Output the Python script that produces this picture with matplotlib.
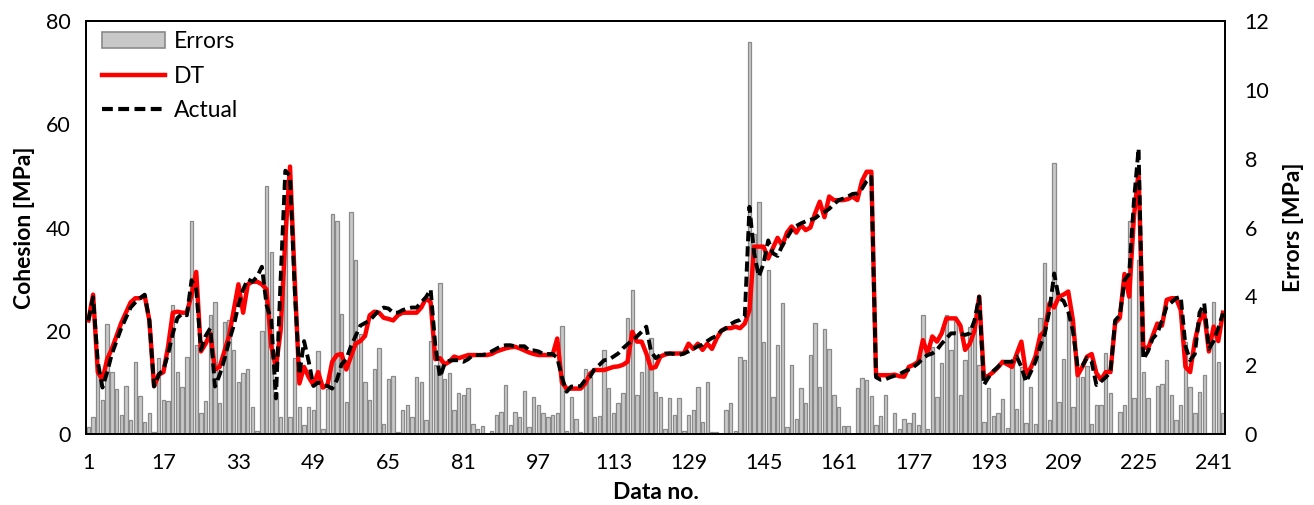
import numpy as np
import matplotlib as mpl
mpl.use('Agg')
import matplotlib.pyplot as plt
from matplotlib.patches import Patch
from matplotlib.lines import Line2D

plt.rcParams['font.family'] = ['Lato', 'DejaVu Sans']

# errors (right axis, MPa), one per data no.
errors = [
    0.2, 0.5, 2.0, 1.0, 3.2, 1.8, 1.3, 0.55, 1.4, 0.4,
    2.1, 1.1, 0.35, 0.6, 0.05, 2.2, 1.0, 0.95, 3.75, 1.8,
    1.37, 2.25, 6.2, 2.6, 0.6, 0.95, 3.45, 3.85, 0.9, 3.25,
    3.3, 2.45, 1.5, 1.76, 1.9, 0.8, 0.1, 3.0, 7.2, 5.3,
    1.2, 0.5, 6.3, 0.5, 2.2, 0.8, 0.26, 0.8, 0.7, 2.4,
    0.16, 1.3, 6.4, 6.2, 3.5, 0.94, 6.45, 5.05, 2.9, 1.5,
    1.0, 1.9, 2.5, 0.3, 1.6, 1.7, 0.05, 0.7, 0.85, 0.5,
    1.67, 1.5, 0.4, 2.7, 2.0, 4.4, 1.6, 1.76, 0.7, 1.2,
    1.13, 1.33, 0.3, 0.16, 0.23, 0.0, 0.1, 0.55, 0.65, 1.42,
    0.26, 0.65, 0.5, 1.26, 0.2, 1.08, 0.85, 0.6, 0.5, 0.55,
    0.6, 3.14, 0.1, 1.08, 0.45, 0.07, 1.9, 1.67, 0.5, 0.52,
    2.44, 1.33, 0.6, 0.9, 1.18, 3.36, 4.18, 1.13, 1.8, 2.25,
    2.8, 1.23, 1.08, 0.16, 1.04, 0.55, 1.04, 0.1, 0.55, 0.7,
    1.37, 0.36, 1.52, 0.07, 0.07, 0.0, 0.7, 0.9, 0.1, 2.25,
    2.15, 11.4, 5.8, 6.75, 2.68, 4.77, 1.08, 2.6, 3.8, 0.2,
    2.0, 0.45, 1.33, 0.9, 2.3, 3.23, 1.37, 3.04, 2.46, 1.13,
    0.78, 0.23, 0.23, 0.0, 1.35, 1.62, 1.57, 1.11, 0.26, 0.52,
    1.13, 0.04, 0.6, 0.14, 0.45, 0.33, 0.62, 0.26, 3.46, 0.16,
    2.54, 1.08, 2.07, 3.46, 2.44, 3.31, 1.13, 2.15, 3.12, 3.2,
    2.0, 0.36, 1.33, 0.52, 0.6, 1.02, 0.19, 2.07, 0.72, 1.96,
    0.33, 1.36, 0.3, 3.36, 4.96, 0.4, 7.86, 0.94, 2.17, 3.5,
    0.8, 1.9, 1.67, 1.98, 0.29, 0.84, 0.84, 2.34, 1.18, 0.0,
    0.65, 0.84, 6.2, 1.04, 5.05, 1.8, 1.04, 0.04, 1.4, 1.45,
    2.15, 1.13, 0.4, 0.85, 2.68, 1.37, 0.6, 1.23, 1.71, 0.04,
    3.85, 2.1, 0.6,
]

# predicted cohesion (DT), MPa
dt = [
    22, 27, 12, 10.5, 14.5, 16.5, 19, 21.5, 23.5, 25.5,
    26.3, 26.3, 26.8, 22, 9.3, 11.5, 12, 17, 23.5, 23.7,
    23.5, 23.5, 27, 31.4, 16, 17.5, 19.5, 12.5, 13, 16,
    19, 24, 29, 23.5, 29, 29.5, 29.5, 29, 28, 17,
    13, 20, 38, 51.8, 30, 9.8, 13, 11, 9.5, 12,
    9, 9.5, 14, 15.3, 15.5, 12.5, 15, 17.5, 18, 19,
    23, 23.7, 23.5, 22.5, 22.3, 22, 23, 23.5, 23.5, 23.5,
    23.5, 24.5, 26.3, 25.5, 14.5, 14.7, 13.5, 14, 15, 14.7,
    15, 15.3, 15.3, 15.3, 15.3, 15.3, 15.5, 16, 16.3, 16.6,
    16.8, 16.9, 16.6, 16.2, 15.8, 15.5, 15.3, 15.3, 15.3, 15.3,
    18.5, 10, 8.8, 8.8, 8.8, 8.8, 9.8, 11.7, 12.4, 12.4,
    12.4, 12.7, 13, 13.1, 13.4, 14, 19.8, 17.9, 17.9, 15.6,
    12.7, 13, 15, 15.4, 15.6, 15.6, 15.6, 15.6, 17.5, 16.5,
    17.5, 16.3, 17.5, 16.5, 18.5, 20, 20.5, 20.5, 20.8, 20.5,
    21.4, 24, 36.3, 36.3, 36.3, 34, 36, 38, 36.5, 39,
    40.2, 39, 40.5, 39.5, 40, 42.7, 45, 42, 46, 45.3,
    45.3, 45.3, 45.5, 46, 45.3, 49, 50.8, 50.8, 11.4, 11.4,
    11.4, 11.4, 11.5, 11.2, 11.1, 13, 13.4, 14, 18.2, 15.6,
    18.9, 17.9, 19.5, 22.4, 22.4, 22.4, 21, 16.3, 17.5, 20,
    26.6, 11, 11.3, 12, 12.9, 14, 13.5, 13, 15.5, 17.9,
    11.7, 12.8, 15, 19, 20, 25.3, 24.5, 26.6, 27, 27.6,
    22, 11.4, 13, 15, 15.5, 11.8, 10.5, 12, 12, 21.5,
    22.5, 31, 26.6, 42, 50.8, 17, 16.5, 19, 21.4, 21,
    26, 26.3, 26.3, 24, 13, 12, 18, 22, 23.5, 16,
    20.8, 18, 23.5,
]

# measured cohesion (Actual), MPa
actual = [
    22, 26.5, 14, 9, 12, 15.5, 18, 20.5, 22.5, 24.5,
    25.5, 26.3, 27, 22, 9.2, 11.5, 12.5, 15.5, 19.5, 22.5,
    23.3, 23, 29.8, 28, 16.3, 19, 20.5, 9.2, 11.5, 14.5,
    18, 21, 25, 28, 30, 29.5, 30.5, 32.4, 25, 22,
    6.9, 30, 51, 50, 28, 11.5, 18, 14, 9.3, 10,
    9.5, 9.3, 8.8, 10.5, 13.5, 14.5, 17, 19, 21, 21.5,
    22, 23, 24, 24.5, 24.3, 23.5, 23.5, 24, 24.3, 24.5,
    24.5, 25.5, 26.5, 28, 17, 11, 13.7, 14.2, 14.3, 14.3,
    14, 14.5, 15.3, 15.3, 15.3, 15.5, 16, 16.5, 17, 17.2,
    17.2, 17, 17, 17, 16.2, 16.2, 16, 15.5, 15.5, 15.5,
    14.8, 11, 8.2, 9.2, 9.2, 9.3, 10.5, 11.1, 12.7, 13.4,
    14.3, 14.4, 15, 15.6, 16.6, 17.4, 18.1, 18.9, 19.8, 20.8,
    16, 14.7, 15.3, 15.6, 15.6, 15.5, 15.3, 15.6, 16, 16.5,
    17, 17.3, 18, 18.6, 19, 20, 20.5, 21.3, 21.8, 22.1,
    22.8, 44, 35, 30.5, 33, 37.5, 35, 34.5, 36.5, 38,
    39.5, 40.3, 40.8, 41.2, 41.5, 41.8, 42.5, 43, 43.6, 44.5,
    45.3, 45.6, 46, 46.5, 46.6, 47.5, 49, 49.8, 11, 10.5,
    10.6, 11, 11.3, 11.6, 12.1, 12.5, 13, 13.7, 14.7, 15.3,
    15.6, 16.3, 17.5, 18.5, 19.5, 19.5, 19.4, 19.2, 19.5, 22,
    26.6, 9.5, 11, 12.2, 13, 14, 14, 14, 15, 13,
    10.1, 12, 14, 17, 19.5, 24, 31.1, 26.3, 25.8, 23.7,
    20, 13, 13.2, 14.8, 14, 9.5, 10.2, 11, 12, 22,
    23, 29.8, 31, 45, 55.3, 14.5, 16, 18.5, 19.5, 22,
    24.7, 25.5, 26.3, 26.6, 17, 14.3, 15.5, 23.5, 25.3, 16.5,
    18, 20.5, 23.4,
]

data_no = np.arange(1, len(actual) + 1)
tick_labels = data_no[::16]

fig = plt.figure(figsize=(13.14, 5.05), dpi=100)
ax = fig.add_axes([0.0655, 0.1405, 0.867, 0.818])
ax2 = ax.twinx()

# bars on the secondary axis, kept behind the lines
ax2.bar(data_no, errors, width=0.72, color='#c8c8c8', edgecolor='#8a8a8a', linewidth=0.9)
ax2.set_ylim(0, 12)
ax2.set_yticks(np.arange(0, 13, 2))
ax2.set_ylabel('Errors [MPa]', fontsize=16.5, fontweight='bold', labelpad=10)

ax.plot(data_no, dt, color='#ff0000', lw=3.2, solid_joinstyle='round')
ax.plot(data_no, actual, color='black', lw=2.8, ls=(0, (2.6, 1.3)))
ax.set_zorder(ax2.get_zorder() + 1)
ax.patch.set_visible(False)

ax.set_xlim(0.5, len(actual) + 0.5)
ax.set_ylim(0, 80)
ax.set_yticks(np.arange(0, 81, 20))
ax.set_xticks(tick_labels)
ax.set_ylabel('Cohesion [MPa]', fontsize=16.5, fontweight='bold', labelpad=8)
ax.set_xlabel('Data no.', fontsize=16.5, fontweight='bold', labelpad=6)

for a in (ax, ax2):
    a.tick_params(length=0, labelsize=15.5)
    for s in a.spines.values():
        s.set_linewidth(1.3)
        s.set_color('black')
ax.tick_params(axis='x', pad=14)
ax.tick_params(axis='y', pad=11)
ax2.tick_params(axis='y', pad=14)

handles = [
    Patch(facecolor='#c8c8c8', edgecolor='#8a8a8a', linewidth=1.2),
    Line2D([], [], color='#ff0000', lw=3.2),
    Line2D([], [], color='black', lw=3, ls=(0, (2.6, 1.3))),
]
ax.legend(handles, ['Errors', 'DT', 'Actual'], loc='upper left', frameon=False,
          bbox_to_anchor=(0.005, 1.0),
          fontsize=16.5, handlelength=2.75, handleheight=0.7, labelspacing=0.58,
          borderaxespad=0.05, handletextpad=0.4)

fig.savefig('out.png', dpi=100)
